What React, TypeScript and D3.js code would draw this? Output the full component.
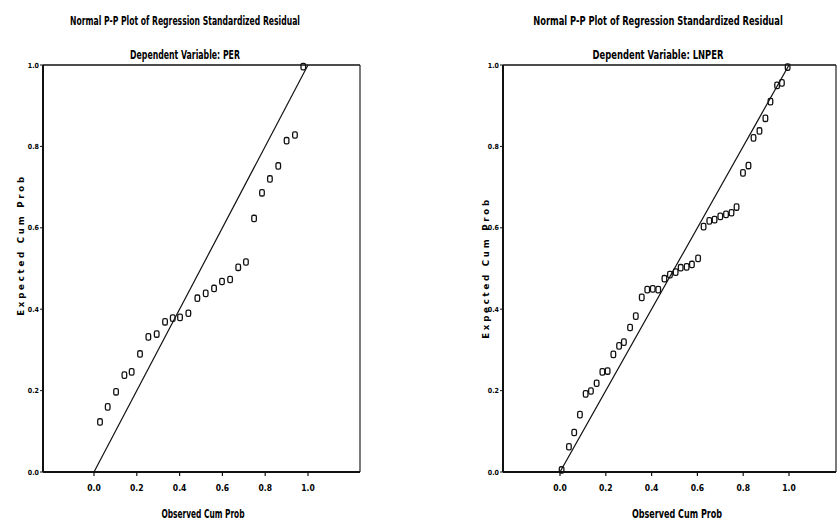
import React, { useLayoutEffect, useRef, useState } from "react";
import * as d3 from "d3";

// ---------- data ----------
const xTicks = [0, 0.2, 0.4, 0.6, 0.8, 1.0];
const yTicks = [0, 0.2, 0.4, 0.6, 0.8, 1.0];

const perObserved = [0.028, 0.064, 0.103, 0.142, 0.176, 0.215, 0.254, 0.293, 0.332, 0.368, 0.402, 0.441, 0.483, 0.522, 0.561, 0.598, 0.636, 0.674, 0.710, 0.748, 0.785, 0.822, 0.861, 0.900, 0.939, 0.978];
const perExpected = [0.123, 0.160, 0.197, 0.238, 0.246, 0.290, 0.332, 0.339, 0.369, 0.378, 0.380, 0.390, 0.427, 0.439, 0.451, 0.468, 0.473, 0.503, 0.516, 0.623, 0.686, 0.720, 0.752, 0.814, 0.828, 0.996];

const lnperObserved = [0.007, 0.039, 0.062, 0.087, 0.112, 0.135, 0.160, 0.185, 0.208, 0.233, 0.258, 0.279, 0.306, 0.331, 0.357, 0.381, 0.405, 0.429, 0.456, 0.480, 0.505, 0.527, 0.553, 0.576, 0.603, 0.627, 0.652, 0.675, 0.700, 0.725, 0.749, 0.771, 0.799, 0.823, 0.845, 0.871, 0.897, 0.919, 0.948, 0.969, 0.994];
const lnperExpected = [0.005, 0.062, 0.097, 0.141, 0.192, 0.199, 0.218, 0.246, 0.248, 0.289, 0.310, 0.319, 0.355, 0.383, 0.429, 0.448, 0.450, 0.448, 0.475, 0.485, 0.491, 0.502, 0.504, 0.510, 0.525, 0.603, 0.617, 0.620, 0.628, 0.633, 0.637, 0.651, 0.735, 0.753, 0.821, 0.838, 0.869, 0.910, 0.950, 0.956, 0.995];

const titleText = "Normal P-P Plot of Regression Standardized Residual";
const xLabelText = "Observed Cum Prob";
const yLabelText = "Expected Cum Prob";

const FONT = "'Liberation Sans Narrow', 'DejaVu Sans Condensed', 'Arial Narrow', 'DejaVu Sans', sans-serif";

// Text drawn with a horizontal squeeze so it spans a target width (condensed look)
function FitText({ x, y, width, size, children }: { x: number; y: number; width: number; size: number; children: string }) {
  const ref = useRef<SVGTextElement>(null);
  const [sx, setSx] = useState(0.7);
  useLayoutEffect(() => {
    if (ref.current) {
      const w = ref.current.getComputedTextLength();
      if (w > 0) setSx(width / w);
    }
  }, [width, children]);
  return (
    <text ref={ref} transform={`translate(${x},${y}) scale(${sx},1)`} textAnchor="middle"
      fontFamily={FONT} fontWeight="bold" fontSize={size} fill="#000">
      {children}
    </text>
  );
}

type PanelProps = {
  obs: number[];
  exp: number[];
  depVar: string;
  boxLeft: number;
  boxRight: number;
  x0: number;
  x1: number;
  cx: number;
  titleW: number;
  subW: number;
  xlabW: number;
  ylabX: number;
  ylabCy: number;
  xlabCx: number;
};

const TOP = 65;
const BOTTOM = 472;

function Panel(p: PanelProps) {
  const x = d3.scaleLinear().domain([0, 1]).range([p.x0, p.x1]);
  const y = d3.scaleLinear().domain([0, 1]).range([BOTTOM, TOP]);
  const pts = p.obs.map((o, i) => [o, p.exp[i]] as [number, number]);
  const line = d3.line<number>().x((d) => x(d)).y((d) => y(d));
  return (
    <g>
      <FitText x={p.cx} y={25} width={p.titleW} size={13}>{titleText}</FitText>
      <FitText x={p.cx} y={59} width={p.subW} size={13}>{"Dependent Variable: " + p.depVar}</FitText>
      {/* frame */}
      <line x1={p.boxLeft} x2={p.boxRight} y1={TOP} y2={TOP} stroke="#111" strokeWidth={1.6} />
      <line x1={p.boxRight} x2={p.boxRight} y1={TOP} y2={BOTTOM} stroke="#222" strokeWidth={1.2} />
      <line x1={p.boxLeft} x2={p.boxRight} y1={BOTTOM} y2={BOTTOM} stroke="#111" strokeWidth={1.8} />
      <line x1={p.boxLeft} x2={p.boxLeft} y1={TOP} y2={BOTTOM} stroke="#111" strokeWidth={2} />
      {/* y ticks */}
      {yTicks.map((t) => (
        <g key={"y" + t}>
          <line x1={p.boxLeft - 3} x2={p.boxLeft} y1={y(t)} y2={y(t)} stroke="#111" strokeWidth={1} />
          <text x={p.boxLeft - 4} y={y(t) + 2.5} textAnchor="end" fontFamily={FONT} fontWeight="bold" fontSize={7}>
            {t.toFixed(1)}
          </text>
        </g>
      ))}
      {/* x ticks */}
      {xTicks.map((t) => (
        <g key={"x" + t}>
          <line x1={x(t)} x2={x(t)} y1={BOTTOM} y2={BOTTOM + 4} stroke="#111" strokeWidth={1.2} />
          <text x={x(t)} y={BOTTOM + 19} textAnchor="middle" fontFamily={FONT} fontWeight="bold" fontSize={8.5}>
            {t.toFixed(1)}
          </text>
        </g>
      ))}
      {/* reference line */}
      <path d={line([0, 1]) || ""} stroke="#111" strokeWidth={1.2} fill="none" />
      {/* points */}
      {pts.map(([o, e], i) => (
        <rect key={i} x={x(o) - 2.3} y={y(e) - 3.2} width={4.6} height={6.4} rx={1.6}
          fill="none" stroke="#111" strokeWidth={1.3} />
      ))}
      {/* axis labels */}
      <FitText x={p.xlabCx} y={518} width={p.xlabW} size={11.5}>{xLabelText}</FitText>
      <text transform={`translate(${p.ylabX},${p.ylabCy}) rotate(-90)`} textAnchor="middle" fontFamily={FONT}
        fontWeight="bold" fontSize={9.5} letterSpacing={2.8}>{yLabelText}</text>
    </g>
  );
}

export default function App() {
  return (
    <svg width={837} height={521} style={{ position: "absolute", left: 0, top: 0, background: "#fff" }}>
      <rect x={0} y={0} width={837} height={521} fill="#fff" />
      <Panel obs={perObserved} exp={perExpected} depVar="PER" boxLeft={43} boxRight={360}
        x0={94} x1={308} cx={185} titleW={230} subW={110} xlabW={83} ylabX={24} ylabCy={245} xlabCx={203} />
      <Panel obs={lnperObserved} exp={lnperExpected} depVar="LNPER" boxLeft={503} boxRight={836}
        x0={560} x1={789} cx={658} titleW={250} subW={131} xlabW={90} ylabX={489} ylabCy={268} xlabCx={677} />
    </svg>
  );
}
